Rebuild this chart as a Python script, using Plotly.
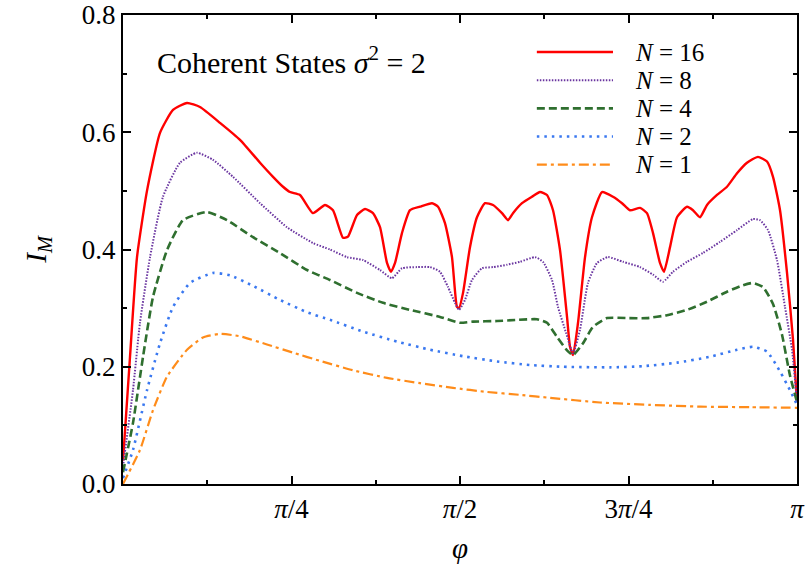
import numpy as np
import plotly.graph_objects as go

# x values are phi / pi
x16 = [0.0, 0.0104, 0.0208, 0.0356, 0.0549, 0.0742, 0.0950, 0.1142, 0.1439, 0.1736, 0.2033, 0.2226, 0.2374,
       0.2478, 0.2626, 0.2819, 0.2997, 0.3116, 0.3264, 0.3338, 0.3472, 0.3591, 0.3709, 0.3813, 0.3917, 0.3976,
       0.4036, 0.4139, 0.4258, 0.4407, 0.4585, 0.4674, 0.4777, 0.4881, 0.4955, 0.4985, 0.5045, 0.5148, 0.5252,
       0.5371, 0.5490, 0.5623, 0.5712, 0.5786, 0.5920, 0.6068, 0.6187, 0.6291, 0.6380, 0.6484, 0.6588, 0.6632,
       0.6677, 0.6751, 0.6855, 0.6958, 0.7107, 0.7270, 0.7404, 0.7522, 0.7671, 0.7774, 0.7864, 0.7967, 0.8027,
       0.8116, 0.8220, 0.8368, 0.8457, 0.8561, 0.8665, 0.8813, 0.8961, 0.9110, 0.9258, 0.9421, 0.9555, 0.9644,
       0.9748, 0.9852, 0.9941, 1.0]
y16 = [0.04, 0.217, 0.387, 0.50, 0.599, 0.638, 0.650, 0.643, 0.616, 0.587, 0.548, 0.524, 0.507,
       0.498, 0.493, 0.462, 0.476, 0.467, 0.420, 0.422, 0.459, 0.469, 0.462, 0.438, 0.377, 0.362,
       0.377, 0.428, 0.467, 0.473, 0.479, 0.473, 0.445, 0.387, 0.302, 0.300, 0.326, 0.404, 0.455,
       0.479, 0.476, 0.462, 0.450, 0.462, 0.479, 0.490, 0.498, 0.493, 0.467, 0.399, 0.285, 0.234,
       0.220, 0.275, 0.387, 0.455, 0.498, 0.490, 0.479, 0.467, 0.471, 0.462, 0.428, 0.377, 0.362,
       0.404, 0.455, 0.473, 0.467, 0.455, 0.476, 0.493, 0.507, 0.530, 0.548, 0.558, 0.550, 0.524,
       0.467, 0.360, 0.246, 0.14]

x8 = [0.0, 0.0148, 0.0252, 0.0401, 0.0593, 0.0846, 0.1098, 0.1335, 0.1632, 0.2033, 0.2433, 0.2819, 0.3071,
      0.3323, 0.3561, 0.3813, 0.3991, 0.4139, 0.4362, 0.4555, 0.4703, 0.4822, 0.4926, 0.4985, 0.5074, 0.5178,
      0.5326, 0.5490, 0.5697, 0.5890, 0.6113, 0.6231, 0.6365, 0.6454, 0.6573, 0.6677, 0.6780, 0.6899, 0.7033,
      0.7196, 0.7418, 0.7671, 0.7864, 0.8012, 0.8160, 0.8368, 0.8605, 0.8858, 0.9110, 0.9347, 0.9451, 0.9570,
      0.9703, 0.9822, 0.9926, 1.0]
y8 = [0.03, 0.160, 0.275, 0.387, 0.490, 0.548, 0.565, 0.553, 0.524, 0.479, 0.438, 0.411, 0.400,
      0.387, 0.382, 0.365, 0.351, 0.368, 0.370, 0.370, 0.362, 0.336, 0.309, 0.297, 0.314, 0.348,
      0.368, 0.370, 0.374, 0.379, 0.387, 0.379, 0.348, 0.302, 0.258, 0.223, 0.263, 0.343, 0.377,
      0.387, 0.379, 0.370, 0.357, 0.345, 0.362, 0.379, 0.394, 0.413, 0.433, 0.452, 0.450, 0.433,
      0.382, 0.302, 0.229, 0.14]

x4 = [0.0, 0.0148, 0.0297, 0.0445, 0.0653, 0.0890, 0.1246, 0.1543, 0.1929, 0.2329, 0.2730, 0.3071, 0.3472,
      0.3858, 0.4258, 0.4703, 0.5000, 0.5193, 0.5549, 0.5846, 0.6142, 0.6291, 0.6439, 0.6588, 0.6677, 0.6825,
      0.6973, 0.7181, 0.7478, 0.7774, 0.8071, 0.8368, 0.8665, 0.8961, 0.9199, 0.9347, 0.9496, 0.9644, 0.9777,
      0.9896, 1.0]
y4 = [0.02, 0.104, 0.217, 0.319, 0.399, 0.450, 0.464, 0.450, 0.421, 0.394, 0.365, 0.348, 0.326,
      0.309, 0.297, 0.285, 0.275, 0.277, 0.278, 0.280, 0.281, 0.275, 0.251, 0.228, 0.220, 0.240,
      0.268, 0.283, 0.283, 0.283, 0.288, 0.297, 0.311, 0.328, 0.339, 0.343, 0.336, 0.307, 0.255,
      0.185, 0.14]

x2 = [0.0, 0.0148, 0.0356, 0.0549, 0.0742, 0.0994, 0.1335, 0.1588, 0.1929, 0.2329, 0.2730, 0.3071, 0.3561,
      0.4065, 0.4555, 0.5045, 0.5549, 0.6039, 0.6528, 0.7226, 0.7715, 0.8220, 0.8709, 0.9110, 0.9347, 0.9555,
      0.9748, 0.9896, 1.0]
y2 = [0.01, 0.058, 0.160, 0.240, 0.302, 0.343, 0.360, 0.356, 0.338, 0.314, 0.293, 0.280, 0.260,
      0.243, 0.229, 0.218, 0.209, 0.203, 0.200, 0.199, 0.201, 0.207, 0.217, 0.229, 0.234, 0.226,
      0.192, 0.160, 0.135]

x1 = [0.0, 0.0252, 0.0445, 0.0653, 0.0950, 0.1187, 0.1439, 0.1736, 0.2136, 0.2522, 0.2923, 0.3412, 0.3917,
      0.4407, 0.4896, 0.5401, 0.5890, 0.6335, 0.7077, 0.7819, 0.8561, 0.9303, 1.0]
y1 = [0.0, 0.058, 0.126, 0.183, 0.229, 0.250, 0.256, 0.252, 0.238, 0.224, 0.210, 0.194, 0.181,
      0.172, 0.164, 0.157, 0.152, 0.147, 0.139, 0.135, 0.132, 0.131, 0.130]

names = ["<i>N</i> = 16", "<i>N</i> = 8", "<i>N</i> = 4", "<i>N</i> = 2", "<i>N</i> = 1"]
xtick_vals = [0.25, 0.5, 0.75, 1.0]
xtick_text = ["<i>π</i>/4", "<i>π</i>/2", "3<i>π</i>/4", "<i>π</i>"]
ytick_vals = [0.0, 0.2, 0.4, 0.6, 0.8]
ytick_text = ["0.0", "0.2", "0.4", "0.6", "0.8"]

FONT = "Liberation Serif"
TICK_SIZE = 27
TEXT_SIZE = 29
LEGEND_SIZE = 25

styles = [
    dict(color="#ff0000", width=2.4, dash="solid"),
    dict(color="#6a35a0", width=2.0, dash="1.5px,1.5px"),
    dict(color="#2f6f2f", width=2.6, dash="8px,4px"),
    dict(color="#3a78f0", width=2.6, dash="2.5px,5px"),
    dict(color="#ff8c1a", width=2.2, dash="10px,4px,3px,4px"),
]

fig = go.Figure()
for xs, ys, nm, st in zip([x16, x8, x4, x2, x1], [y16, y8, y4, y2, y1], names, styles):
    fig.add_trace(go.Scatter(x=xs, y=ys, mode="lines", name=nm, showlegend=False,
                             line=dict(shape="spline", smoothing=0.5, **st)))

# Legend drawn as key (paper coordinates): sample line + label per row
leg_x0, leg_x1, leg_tx = 0.614, 0.727, 0.757
leg_y = [0.921, 0.861, 0.801, 0.741, 0.681]
for nm, st, yy in zip(names, styles, leg_y):
    fig.add_shape(type="line", xref="paper", yref="paper", x0=leg_x0, x1=leg_x1, y0=yy, y1=yy,
                  line=dict(color=st["color"], width=st["width"], dash=st["dash"]))
    fig.add_annotation(text=nm, xref="paper", yref="paper", x=leg_tx, y=yy,
                       xanchor="left", yanchor="middle", showarrow=False,
                       font=dict(family=FONT, size=LEGEND_SIZE, color="black"))

axis_common = dict(showline=True, linecolor="black", linewidth=2, mirror="allticks",
                   ticks="inside", ticklen=8, tickwidth=1.5, tickcolor="black",
                   showgrid=False, zeroline=False, automargin=False,
                   tickfont=dict(family=FONT, size=TICK_SIZE, color="black"))

fig.update_xaxes(range=[0, 1], tickvals=xtick_vals, ticktext=xtick_text,
                 minor=dict(dtick=0.125, ticks="inside", ticklen=4, tickwidth=1.5, tickcolor="black"),
                 title=dict(text="<i>φ</i>", font=dict(family=FONT, size=TEXT_SIZE, color="black"), standoff=14),
                 **axis_common)
fig.update_yaxes(range=[0, 0.8], tickvals=ytick_vals, ticktext=ytick_text,
                 minor=dict(dtick=0.1, ticks="inside", ticklen=4, tickwidth=1.5, tickcolor="black"),
                 title=dict(text="<i>I<sub>M</sub></i>", font=dict(family=FONT, size=TEXT_SIZE, color="black"), standoff=27),
                 **axis_common)

fig.add_annotation(text="Coherent States <i>σ</i><sup>2</sup> = 2", xref="paper", yref="paper",
                   x=0.047, y=0.903, xanchor="left", yanchor="middle", showarrow=False,
                   font=dict(family=FONT, size=30, color="black"))

fig.update_layout(
    width=808, height=575,
    margin=dict(l=123, r=11, t=15, b=91),
    plot_bgcolor="white", paper_bgcolor="white",
    showlegend=False,
)

fig.write_html("out.html")
